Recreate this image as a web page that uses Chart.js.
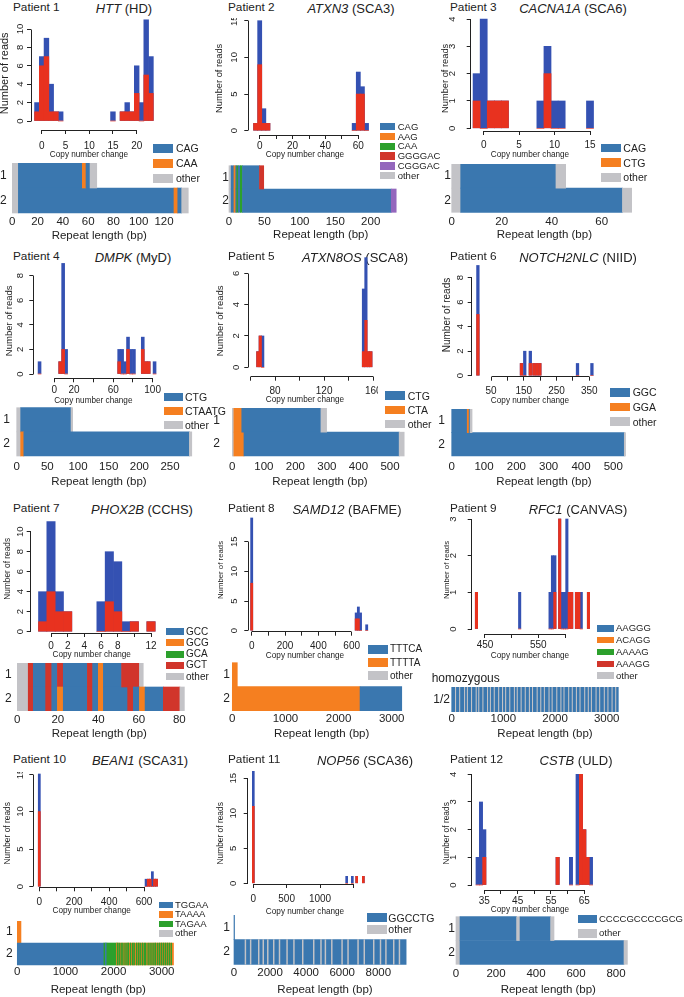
<!DOCTYPE html>
<html>
<head>
<meta charset="utf-8">
<script src="https://cdn.jsdelivr.net/npm/chart.js@4.4.1/dist/chart.umd.min.js"></script>
<style>
body { margin: 0; background: #fff; }
#fig { position: relative; width: 684px; height: 997px; overflow: hidden; font-family: "Liberation Sans", Arial, Helvetica, sans-serif; color: #222; }
#fig canvas { position: absolute; }
.t { position: absolute; white-space: nowrap; line-height: 1; }
.box { position: absolute; }
</style>
</head>
<body>
<div id="fig"></div>
<script>
Chart.defaults.font.family = '"Liberation Sans", Arial, Helvetica, sans-serif';
Chart.defaults.color = '#222';

// ---------- data ----------
const genes    = ['HTT', 'ATXN3', 'CACNA1A', 'DMPK', 'ATXN8OS', 'NOTCH2NLC', 'PHOX2B', 'SAMD12', 'RFC1', 'BEAN1', 'NOP56', 'CSTB'];
const diseases = ['HD', 'SCA3', 'SCA6', 'MyD', 'SCA8', 'NIID', 'CCHS', 'BAFME', 'CANVAS', 'SCA31', 'SCA36', 'ULD'];

// histograms: bin (copy number change), all reads (blue), reads of one allele (red)
const p1_bins  = [-1, 0, 1, 2, 3, 4, 15, 17, 18, 19, 20, 21, 22, 23];
const p1_total = [ 2, 7, 9, 4, 1, 1,  1,  1,  2,  1,  6,  2, 11,  7];
const p1_red   = [ 1, 6, 7, 1, 1, 0,  0,  1,  1,  1,  3,  0,  5,  3];
const p2_bins  = [-2.5, 0, 2.5, 5, 57.5, 60, 62.5, 65];
const p2_total = [1, 15, 3, 1, 1, 8, 6, 1];
const p2_red   = [1,  9, 1, 1, 0, 5, 5, 0];
const p3_bins  = [-1, 0, 1, 2, 3, 8, 9, 10, 11, 15];
const p3_total = [ 2, 4, 1, 1, 1, 1, 3,  1,  1,  1];
const p3_red   = [ 1, 0, 1, 1, 1, 0, 2,  0,  0,  0];
const p4_bins  = [-15, 6, 9, 12, 66, 69, 72, 75, 78, 81, 90, 93, 96, 102];
const p4_total = [  1, 1, 9,  2,  2,  2,  1,  3,  2,  2,  3,  1,  1,   1];
const p4_red   = [  0, 1, 2,  0,  1,  0,  0,  2,  0,  0,  2,  1,  1,   0];
const p5_bins  = [66, 68, 70, 152, 154, 156, 158];
const p5_total = [ 1,  2,  2,   5,   7,   1,   1];
const p5_red   = [ 1,  2,  0,   1,   3,   1,   1];
const p6_bins  = [10, 143, 153, 170, 181, 190, 199, 314, 358];
const p6_total = [ 9,   1,   2,   2,   1,   1,   1,   1,   1];
const p6_red   = [ 5,   1,   0,   1,   1,   1,   1,   0,   0];
const p7_bins  = [-1,  0, 1, 2, 6, 7, 8, 9, 10, 12];
const p7_total = [ 4, 11, 4, 2, 3, 8, 7, 1,  1,  1];
const p7_red   = [ 1,  4, 2, 2, 0, 3, 2, 0,  1,  1];
const p8_bins  = [ 0, 627, 640, 653, 690];
const p8_total = [19,   3,   4,   3,   1];
const p8_red   = [ 8,   2,   2,   0,   0];
const p9_bins  = [434, 515, 572, 576.5, 581, 590, 594.5, 599, 603.5, 608, 612.5, 621.5, 626, 630.5, 644];
const p9_total = [  1,   1,   1,     2,   2,   3,     1,   1,     3,   1,     1,     1,   1,     1,   1];
const p9_red   = [  1,   0,   0,     0,   1,   3,     0,   0,     0,   1,     1,     1,   1,     0,   1];
const p10_bins  = [ 0, 612, 624, 636, 648, 660, 672];
const p10_total = [15,   1,   1,   1,   2,   1,   1];
const p10_red   = [10,   0,   1,   1,   0,   1,   1];
const p11_bins  = [ 0, 1400, 1485, 1550, 1650];
const p11_total = [16,    1,    1,    1,    1];
const p11_red   = [11,    0,    0,    1,    1];
const p12_bins  = [33, 34, 35, 57, 61, 63, 64, 65, 66, 67];
const p12_total = [ 1,  3,  2,  1,  1,  4,  4,  2,  1,  1];
const p12_red   = [ 0,  0,  1,  1,  0,  0,  4,  2,  1,  0];

// histogram axis ticks and the ticks that carry a label
const p1_xticks = [0, 5, 10, 15, 20],                p1_xlabels = [0, 5, 10, 15, 20],   p1_yticks = [0, 2, 4, 6, 8, 10];
const p2_xticks = [0, 10, 20, 30, 40, 50, 60],       p2_xlabels = [0, 20, 40, 60],      p2_yticks = [0, 5, 10, 15];
const p3_xticks = [0, 5, 10, 15],                    p3_xlabels = [0, 5, 10, 15],       p3_yticks = [0, 1, 2, 3, 4];
const p4_xticks = [0, 20, 40, 60, 80, 100],          p4_xlabels = [0, 20, 60, 100],     p4_yticks = [0, 2, 4, 6, 8];
const p5_xticks = [60, 80, 100, 120, 140, 160],      p5_xlabels = [80, 120, 160],       p5_yticks = [0, 2, 4, 6];
const p6_xticks = [50, 100, 150, 200, 250, 300, 350], p6_xlabels = [50, 150, 250, 350], p6_yticks = [0, 2, 4, 6, 8];
const p7_xticks = [0, 2, 4, 6, 8, 10, 12],           p7_xlabels = [0, 2, 4, 6, 8, 12],  p7_yticks = [0, 2, 4, 6, 8, 10];
const p8_xticks = [0, 100, 200, 300, 400, 500, 600], p8_xlabels = [0, 200, 400, 600],   p8_yticks = [0, 5, 10, 15];
const p9_xticks = [450, 500, 550, 600],              p9_xlabels = [450, 550],           p9_yticks = [0, 1, 2, 3];
const p10_xticks = [0, 100, 200, 300, 400, 500, 600], p10_xlabels = [0, 200, 400, 600], p10_yticks = [0, 5, 10, 15];
const p11_xticks = [0, 500, 1000, 1500],             p11_xlabels = [0, 500, 1000],      p11_yticks = [0, 5, 10, 15];
const p12_xticks = [35, 40, 45, 50, 55, 60, 65],     p12_xlabels = [35, 45, 55, 65],    p12_yticks = [0, 1, 2, 3, 4];

// motifs in each legend (colour follows the order, "other" is grey)
const p1_motifs  = ['CAG', 'CAA', 'other'];
const p2_motifs  = ['CAG', 'AAG', 'CAA', 'GGGGAC', 'CGGGAC', 'other'];
const p3_motifs  = ['CAG', 'CTG', 'other'];
const p4_motifs  = ['CTG', 'CTAATG', 'other'];
const p5_motifs  = ['CTG', 'CTA', 'other'];
const p6_motifs  = ['GGC', 'GGA', 'other'];
const p7_motifs  = ['GCC', 'GCG', 'GCA', 'GCT', 'other'];
const p8_motifs  = ['TTTCA', 'TTTTA', 'other'];
const p9_motifs  = ['AAGGG', 'ACAGG', 'AAAAG', 'AAAGG', 'other'];
const p10_motifs = ['TGGAA', 'TAAAA', 'TAGAA', 'other'];
const p11_motifs = ['GGCCTG', 'other'];
const p12_motifs = ['CCCCGCCCCGCG', 'other'];

// alleles: [end (bp), motif], each segment starts where the previous one ends
const p1_allele1 = [[4.8, 'other'], [55.4, 'CAG'], [58.3, 'CAA'], [61.5, 'CAG'], [66.8, 'other']];
const p1_allele2 = [[4.8, 'other'], [127.9, 'CAG'], [130.9, 'CAA'], [134, 'CAG'], [139.2, 'other']];
const p2_allele1 = [[3, 'other'], [7, 'CAG'], [9.5, 'AAG'], [11, 'CAG'], [13, 'CAA'], [16, 'CAG'], [19, 'CAA'], [43, 'CAG'], [49, 'GGGGAC']];
const p2_allele2 = [[3, 'other'], [7, 'CAG'], [9.5, 'AAG'], [11, 'CAG'], [13, 'CAA'], [16, 'CAG'], [19, 'CAA'], [229, 'CAG'], [236, 'CGGGAC']];
const p3_allele1 = [[3.6, 'other'], [41.7, 'CAG'], [45.6, 'other']];
const p3_allele2 = [[3.6, 'other'], [68.3, 'CAG'], [72, 'other']];
const p4_allele1 = [[6.5, 'other'], [88.6, 'CTG'], [91.3, 'other']];
const p4_allele2 = [[6.5, 'other'], [11.6, 'CTAATG'], [281.6, 'CTG'], [285.5, 'other']];
const p5_allele1 = [[5, 'other'], [30, 'CTA'], [281, 'CTG'], [299, 'other']];
const p5_allele2 = [[5, 'other'], [37, 'CTA'], [529, 'CTG'], [545, 'other']];
const p6_allele1 = [[48, 'GGC'], [54, 'GGA'], [57, 'GGC'], [63, 'other']];
const p6_allele2 = [[534, 'GGC'], [538, 'other']];
const p7_allele1 = [[5.4, 'other'], [7.9, 'GCT'], [14, 'GCC'], [17, 'GCT'], [19.8, 'GCC'], [22.7, 'GCT'], [34.6, 'GCC'], [37.2, 'GCT'],
                    [40, 'GCC'], [42.5, 'GCG'], [51.5, 'GCC'], [60.3, 'GCT'], [62.2, 'other']];
const p7_allele2 = [[5.4, 'other'], [7.9, 'GCT'], [14, 'GCC'], [17, 'GCT'], [19.8, 'GCC'], [22.7, 'GCG'], [34.6, 'GCC'], [37.2, 'GCT'],
                    [40, 'GCC'], [42.5, 'GCG'], [54.5, 'GCC'], [57.3, 'GCT'], [60.3, 'GCC'], [63.1, 'GCG'], [72.1, 'GCC'], [80.3, 'GCT'], [82.5, 'other']];
const p8_allele1 = [[94, 'TTTTA']];
const p8_allele2 = [[2404, 'TTTTA'], [3189, 'TTTCA']];
const p9_allele  = [[3225, 'AAGGG']];
const p10_allele1 = [[76, 'TAAAA']];
const p10_allele2 = [[1800, 'TGGAA'], [1830, 'TAGAA'], [1860, 'TGGAA'], [2060, 'TAGAA'], [3245, 'TAAAA']];
const p11_allele1 = [[30, 'GGCCTG']];
const p11_allele2 = [[9543, 'GGCCTG']];
const p12_allele1 = [[20, 'other'], [303, 'CCCCGCCCCGCG'], [320, 'other'], [473, 'CCCCGCCCCGCG'], [490, 'other']];
const p12_allele2 = [[20, 'other'], [840, 'CCCCGCCCCGCG'], [857, 'other']];

// short interruptions inside the long repeats (start, bp)
const p9_breaks  = [70, 150, 245, 300, 380, 470, 520, 600, 690, 745, 820, 905, 980, 1040, 1120, 1210, 1265, 1340, 1420, 1500, 1560,
                    1650, 1720, 1790, 1880, 1940, 2030, 2110, 2170, 2260, 2330, 2410, 2480, 2570, 2640, 2700, 2790, 2860, 2950, 3020, 3100, 3170];
const p10_breaks = [2075, 2110, 2150, 2185, 2230, 2270, 2300, 2345, 2390, 2420, 2470, 2510, 2545, 2590, 2630, 2660, 2710, 2750, 2790,
                    2830, 2865, 2910, 2950, 2990, 3030, 3070, 3110, 3150, 3190];
const p11_breaks = [610, 900, 1349, 1600, 1850, 2180, 2500, 2919, 3300, 3788, 4398, 4800, 5044, 5400, 5969, 6300, 6855, 7200, 7724, 8100, 8400, 8833, 9150];

// allele axis ticks
const p1_ticks = [0, 20, 40, 60, 80, 100, 120];
const p2_ticks = [0, 50, 100, 150, 200];
const p3_ticks = [0, 20, 40, 60];
const p4_ticks = [0, 50, 100, 150, 200, 250];
const p5_ticks = [0, 100, 200, 300, 400, 500];
const p6_ticks = [0, 100, 200, 300, 400, 500];
const p7_ticks = [0, 20, 40, 60, 80];
const p8_ticks = [0, 1000, 2000, 3000];
const p9_ticks = [0, 1000, 2000, 3000];
const p10_ticks = [0, 1000, 2000, 3000];
const p11_ticks = [0, 2000, 4000, 6000, 8000];
const p12_ticks = [0, 200, 400, 600, 800];

// ---------- styles / layout ----------
const PALETTE = ['#3a77af', '#f57f20', '#2ca02c', '#d1352b', '#9467bd'];
const OTHER = '#c3c3c7';
const HIST_BLUE = '#3451b2';
const HIST_RED = '#e8321f';
const AXIS = '#222';

const titlePos = [[13, 124, 8], [228, 351, 8], [450, 573, 8], [13, 133, 257], [228, 355, 257], [450, 578, 257],
                  [13, 142, 508.5], [228, 347, 508.5], [450, 578, 508.5], [13, 140, 760], [228, 365, 760], [450, 576, 760]];

const histLayout = [
  { area: [31, 16.7, 147, 130],        xmap: [0, 41.7, 20, 136.7],   ymap: [0, 121, 10, 29],      binW: 1,   xPad: 6,   yPad: 1,    yTitleX: 5,     yTitle: 11,  xTitleY: 155 },
  { area: [248.3, 21.7, 361.7, 135],   xmap: [0, 259.7, 60, 358.3],  ymap: [0, 130.7, 15, 20.7],  binW: 2.5, xPad: 1.7, yPad: 4.3,  yTitleX: 220.5, yTitle: 9.3, xTitleY: 155 },
  { area: [470.7, 25.7, 589.3, 131],   xmap: [0, 483.7, 15, 590],    ymap: [0, 128.3, 4, 19],     binW: 1,   xPad: 4,   yPad: 11.5, yTitleX: 446,   yTitle: 9.3, xTitleY: 154.3 },
  { area: [33.3, 263.3, 153.3, 378.3], xmap: [0, 54.3, 100, 152.6],  ymap: [0, 374, 8, 275.7],    binW: 3,   xPad: 1.7, yPad: 6,    yTitleX: 10,    yTitle: 9.5, xTitleY: 400.7 },
  { area: [248.3, 265, 361.7, 376.7],  xmap: [80, 275, 160, 373.3],  ymap: [0, 367.3, 6, 273.3],  binW: 2,   xPad: 5,   yPad: 5,    yTitleX: 221,   yTitle: 9.5, xTitleY: 400 },
  { area: [471.7, 253.3, 588.3, 376.7], xmap: [50, 491, 350, 589.3], ymap: [0, 375.7, 8, 277.7],  binW: 8,   xPad: 5,   yPad: 5,    yTitleX: 447,   yTitle: 10,  xTitleY: 400.7 },
  { area: [30.7, 504.6, 152.7, 633],   xmap: [0, 51, 12, 151],       ymap: [0, 631.7, 10, 531.7], binW: 1,   xPad: 3.7, yPad: 1.5,  yTitleX: 8.3,   yTitle: 8.3, xTitleY: 655 },
  { area: [248.3, 508.3, 361.7, 631.7], xmap: [0, 251.7, 600, 351.7], ymap: [0, 630.7, 15, 541.7], binW: 13, xPad: 4.3, yPad: 4.3,  yTitleX: 221,   yTitle: 7.8, xTitleY: 655.7 },
  { area: [471.7, 506, 588.3, 634],    xmap: [450, 485, 600, 565],   ymap: [0, 629, 3, 519],      binW: 4.5, xPad: 1,   yPad: 11.2, yTitleX: 447.5, yTitle: 7.8, xTitleY: 655.7 },
  { area: [33.3, 779.3, 150, 887.3],   xmap: [0, 39.3, 600, 144],    ymap: [0, 886.7, 15, 774],   binW: 12,  xPad: 5,   yPad: 3.6,  yTitleX: 8.3,   yTitle: 8.4, xTitleY: 910.7 },
  { area: [247.7, 782.7, 362.3, 884],  xmap: [0, 253.3, 1000, 320],  ymap: [0, 883.3, 15, 778.3], binW: 30,  xPad: 5,   yPad: 5.4,  yTitleX: 222,   yTitle: 8.4, xTitleY: 911.7 },
  { area: [471.7, 776.7, 588.3, 890],  xmap: [35, 484.3, 65, 584.3], ymap: [0, 885, 4, 774.3],    binW: 1,   xPad: 1,   yPad: 11.2, yTitleX: 447.5, yTitle: 8.4, xTitleY: 910 }
];

const alleleLayout = [
  { area: [12.3, 163, 186.3, 213],    xmap: [0, 12.3, 120, 164],     labelY: 221.7, titleY: 236,   labelRight: 6.7 },
  { area: [229, 165.7, 412.4, 212.3], xmap: [0, 229, 200, 370.7],    labelY: 221.7, titleY: 235,   labelRight: 228.8 },
  { area: [451.7, 164, 637, 212.3],   xmap: [0, 451.7, 60, 601.7],   labelY: 221.7, titleY: 235,   labelRight: 451 },
  { area: [16.7, 407.7, 181.3, 456],  xmap: [0, 16.7, 250, 170],     labelY: 466.7, titleY: 481.7, labelRight: 10 },
  { area: [232.3, 408.3, 407.7, 456], xmap: [0, 232.3, 500, 390],    labelY: 466.7, titleY: 481.7, labelRight: 220 },
  { area: [451.7, 409.3, 636.3, 456], xmap: [0, 451.7, 500, 613.3],  labelY: 466.7, titleY: 481.7, labelRight: 444.9 },
  { area: [17.3, 663.3, 181.3, 710.7], xmap: [0, 17.3, 80, 179.3],   labelY: 720,   titleY: 733.3, labelRight: 11.7 },
  { area: [232.3, 662.7, 411.1, 710.7], xmap: [0, 232.3, 3000, 391.7], labelY: 719.3, titleY: 733.3, labelRight: 230 },
  { area: [451.7, 687.3, 638.3, 711.7], xmap: [0, 451.7, 3000, 606.7], labelY: 719.3, titleY: 733.3, labelRight: 450 },
  { area: [17.3, 921, 179.3, 965],    xmap: [0, 17.3, 3000, 161.7],  labelY: 972,   titleY: 990,   labelRight: 12.7 },
  { area: [234, 915, 416, 964.3],     xmap: [0, 234, 8000, 378.3],   labelY: 973.3, titleY: 990,   labelRight: 230 },
  { area: [456, 916.7, 640.6, 964.3], xmap: [0, 456, 800, 616],      labelY: 974.3, titleY: 990,   labelRight: 455 }
];

const legendLayout = [
  { x: 153,   bw: 20,   bh: 9,   tx: 176,   y0: 148,   dy: 15,   fs: 10.5 },
  { x: 380,   bw: 15,   bh: 7.5, tx: 397.7, y0: 126.7, dy: 9.8,  fs: 9.5 },
  { x: 600.7, bw: 20,   bh: 8.5, tx: 623.3, y0: 148,   dy: 14.7, fs: 10.5 },
  { x: 164,   bw: 19.3, bh: 8.3, tx: 185,   y0: 396.7, dy: 14.2, fs: 10.5 },
  { x: 385,   bw: 20,   bh: 8.5, tx: 407.7, y0: 395.7, dy: 14.2, fs: 10.5 },
  { x: 610,   bw: 20,   bh: 8.5, tx: 632.7, y0: 392.3, dy: 14.7, fs: 10.5 },
  { x: 165.7, bw: 18.3, bh: 7,   tx: 186,   y0: 631.7, dy: 11.25, fs: 10 },
  { x: 368.3, bw: 20,   bh: 8.5, tx: 390,   y0: 649.3, dy: 13.2, fs: 10 },
  { x: 596.7, bw: 17.3, bh: 6.5, tx: 616,   y0: 628.3, dy: 11.85, fs: 9.5 },
  { x: 159.3, bw: 14,   bh: 6.5, tx: 175,   y0: 905,   dy: 9.45, fs: 9.5 },
  { x: 366.7, bw: 20,   bh: 8.5, tx: 388.3, y0: 917.7, dy: 11.6, fs: 10.5 },
  { x: 578.3, bw: 18.4, bh: 8.5, tx: 599,   y0: 919,   dy: 14.3, fs: 9.5 }
];

// ---------- drawing ----------
const fig = document.getElementById('fig');

function addText(text, x, y, size, center) {
  const d = document.createElement('div');
  d.className = 't';
  d.textContent = text;
  d.style.left = x + 'px';
  d.style.top = y + 'px';
  d.style.fontSize = size + 'px';
  d.style.transform = center ? 'translate(-50%,-50%)' : 'translate(0,-50%)';
  fig.appendChild(d);
  return d;
}

function makeCanvas(left, top, w, h) {
  const c = document.createElement('canvas');
  c.width = w; c.height = h;
  c.style.left = left + 'px';
  c.style.top = top + 'px';
  c.style.width = w + 'px';
  c.style.height = h + 'px';
  fig.appendChild(c);
  return c;
}

function motifColor(motifs, m) {
  return m === 'other' ? OTHER : PALETTE[motifs.indexOf(m)];
}

const alignPx = p => Math.round(p - 0.5) + 0.5;

// R style axes: the line only runs from the first to the last tick
const rAxis = {
  id: 'rAxis',
  afterDraw(chart) {
    const ctx = chart.ctx, x = chart.scales.x, y = chart.scales.y;
    const xs = x.ticks.map(t => alignPx(x.getPixelForValue(t.value)));
    const ys = y.ticks.map(t => alignPx(y.getPixelForValue(t.value)));
    ctx.save();
    ctx.strokeStyle = AXIS;
    ctx.lineWidth = 1;
    ctx.beginPath();
    ctx.moveTo(xs[0], alignPx(x.top));
    ctx.lineTo(xs[xs.length - 1], alignPx(x.top));
    ctx.moveTo(alignPx(y.right), ys[0]);
    ctx.lineTo(alignPx(y.right), ys[ys.length - 1]);
    ctx.stroke();
    ctx.restore();
  }
};

function histogram(g, bins, total, red, xTicks, xLabels, yTicks) {
  const [L, T, R, B] = g.area;
  const kx = (g.xmap[3] - g.xmap[1]) / (g.xmap[2] - g.xmap[0]);
  const ky = (g.ymap[3] - g.ymap[1]) / (g.ymap[2] - g.ymap[0]);
  const barTop = g.ymap[1] + (Math.max(...total) - g.ymap[0]) * ky;
  const left = Math.floor(g.yTitleX - 0.6 * g.yTitle);
  const top = Math.floor(Math.min(T, barTop - 2));
  const bottom = Math.ceil(g.xTitleY + 0.6 * 8.2);
  const right = Math.ceil(R) + 16;
  const cv = makeCanvas(left, top, right - left, bottom - top);
  const bar = { grouped: false, barThickness: g.binW * kx, borderWidth: 0, clip: false };

  return new Chart(cv, {
    type: 'bar',
    data: {
      datasets: [
        Object.assign({ data: bins.map((b, i) => ({ x: b, y: red[i] })), backgroundColor: HIST_RED, order: 0 }, bar),
        Object.assign({ data: bins.map((b, i) => ({ x: b, y: total[i] })), backgroundColor: HIST_BLUE, order: 1 }, bar)
      ]
    },
    options: {
      responsive: false, animation: false, events: [], devicePixelRatio: 1,
      layout: { padding: { top: T - top, left: 0, right: right - R, bottom: 0 }, autoPadding: false },
      plugins: { legend: { display: false }, tooltip: { enabled: false } },
      scales: {
        x: {
          type: 'linear', offset: false,
          min: g.xmap[0] + (L - g.xmap[1]) / kx,
          max: g.xmap[0] + (R - g.xmap[1]) / kx,
          afterBuildTicks: s => { s.ticks = xTicks.map(v => ({ value: v })); },
          afterFit: s => { s.height = bottom - B; s.paddingLeft = 0; s.paddingRight = 0; },
          border: { display: false },
          grid: { drawOnChartArea: false, tickLength: 4, color: AXIS, offset: false },
          ticks: { autoSkip: false, maxRotation: 0, padding: g.xPad, font: { size: 10 },
                   callback: v => xLabels.includes(v) ? String(v) : '' },
          title: { display: true, text: 'Copy number change', padding: 0, font: { size: 8.2 } }
        },
        y: {
          type: 'linear',
          min: g.ymap[0] + (B - g.ymap[1]) / ky,
          max: g.ymap[0] + (T - g.ymap[1]) / ky,
          afterBuildTicks: s => { s.ticks = yTicks.map(v => ({ value: v })); },
          afterFit: s => { s.width = L - left; s.paddingTop = 0; s.paddingBottom = 0; },
          border: { display: false },
          grid: { drawOnChartArea: false, tickLength: 4, color: AXIS },
          ticks: { autoSkip: false, minRotation: 90, maxRotation: 90, crossAlign: 'center', padding: g.yPad, font: { size: 9.5 } },
          title: { display: true, text: 'Number of reads', padding: 0, font: { size: g.yTitle } }
        }
      }
    },
    plugins: [rAxis]
  });
}

function alleles(g, rowLabels, rows, motifs, ticks, breaks) {
  const [L, T, R, B] = g.area;
  const kx = (g.xmap[3] - g.xmap[1]) / (g.xmap[2] - g.xmap[0]);
  const segRows = rows.map(r => {
    let start = 0;
    return r.map(([end, m]) => { const s = [start, end, m]; start = end; return s; });
  });
  if (breaks) breaks.list.forEach(p => segRows[breaks.row].push([p, p + breaks.w, breaks.motif]));

  const n = Math.max(...segRows.map(r => r.length));
  const datasets = [];
  for (let k = 0; k < n; k++) {
    datasets.push({
      data: segRows.map(r => r[k] ? [r[k][0], r[k][1]] : null),
      backgroundColor: segRows.map(r => r[k] ? motifColor(motifs, r[k][2]) : 'rgba(0,0,0,0)'),
      grouped: false, barPercentage: 1, categoryPercentage: 1, borderWidth: 0, clip: false, order: -k
    });
  }

  const left = Math.floor(g.labelRight - 30);
  const top = Math.floor(T);
  const bottom = Math.ceil(g.titleY + 0.6 * 11.5);
  const right = Math.ceil(R) + 12;
  const cv = makeCanvas(left, top, right - left, bottom - top);

  return new Chart(cv, {
    type: 'bar',
    data: { labels: rowLabels, datasets },
    options: {
      indexAxis: 'y',
      responsive: false, animation: false, events: [], devicePixelRatio: 1,
      layout: { padding: { top: T - top, left: 0, right: right - R, bottom: 0 }, autoPadding: false },
      plugins: { legend: { display: false }, tooltip: { enabled: false } },
      scales: {
        x: {
          type: 'linear', min: 0,
          max: (R - g.xmap[1]) / kx,
          afterBuildTicks: s => { s.ticks = ticks.map(v => ({ value: v })); },
          afterFit: s => { s.height = bottom - B; s.paddingLeft = 0; s.paddingRight = 0; },
          border: { display: false },
          grid: { display: false, drawTicks: false },
          ticks: { autoSkip: false, maxRotation: 0, padding: g.labelY - B - 6.9, font: { size: 11.5 }, callback: v => String(v) },
          title: { display: true, text: 'Repeat length (bp)', padding: 0, font: { size: 11.5 } }
        },
        y: {
          type: 'category', offset: true,
          afterFit: s => { s.width = L - left; s.paddingTop = 0; s.paddingBottom = 0; },
          border: { display: false },
          grid: { display: false, drawTicks: false },
          ticks: { padding: L - g.labelRight, font: { size: 12 } }
        }
      }
    }
  });
}

function legend(g, motifs) {
  motifs.forEach((m, i) => {
    const y = g.y0 + i * g.dy;
    const b = document.createElement('div');
    b.className = 'box';
    b.style.left = g.x + 'px';
    b.style.top = (y - g.bh / 2) + 'px';
    b.style.width = g.bw + 'px';
    b.style.height = g.bh + 'px';
    b.style.background = motifColor(motifs, m);
    fig.appendChild(b);
    addText(m, g.tx, y, g.fs, false);
  });
}

const hists = [
  [p1_bins, p1_total, p1_red, p1_xticks, p1_xlabels, p1_yticks],
  [p2_bins, p2_total, p2_red, p2_xticks, p2_xlabels, p2_yticks],
  [p3_bins, p3_total, p3_red, p3_xticks, p3_xlabels, p3_yticks],
  [p4_bins, p4_total, p4_red, p4_xticks, p4_xlabels, p4_yticks],
  [p5_bins, p5_total, p5_red, p5_xticks, p5_xlabels, p5_yticks],
  [p6_bins, p6_total, p6_red, p6_xticks, p6_xlabels, p6_yticks],
  [p7_bins, p7_total, p7_red, p7_xticks, p7_xlabels, p7_yticks],
  [p8_bins, p8_total, p8_red, p8_xticks, p8_xlabels, p8_yticks],
  [p9_bins, p9_total, p9_red, p9_xticks, p9_xlabels, p9_yticks],
  [p10_bins, p10_total, p10_red, p10_xticks, p10_xlabels, p10_yticks],
  [p11_bins, p11_total, p11_red, p11_xticks, p11_xlabels, p11_yticks],
  [p12_bins, p12_total, p12_red, p12_xticks, p12_xlabels, p12_yticks]
];

const allelePanels = [
  [['1', '2'], [p1_allele1, p1_allele2], p1_motifs, p1_ticks],
  [['1', '2'], [p2_allele1, p2_allele2], p2_motifs, p2_ticks],
  [['1', '2'], [p3_allele1, p3_allele2], p3_motifs, p3_ticks],
  [['1', '2'], [p4_allele1, p4_allele2], p4_motifs, p4_ticks],
  [['1', '2'], [p5_allele1, p5_allele2], p5_motifs, p5_ticks],
  [['1', '2'], [p6_allele1, p6_allele2], p6_motifs, p6_ticks],
  [['1', '2'], [p7_allele1, p7_allele2], p7_motifs, p7_ticks],
  [['1', '2'], [p8_allele1, p8_allele2], p8_motifs, p8_ticks],
  [['1/2'], [p9_allele], p9_motifs, p9_ticks, { row: 0, list: p9_breaks, w: 8, motif: 'other' }],
  [['1', '2'], [p10_allele1, p10_allele2], p10_motifs, p10_ticks, { row: 1, list: p10_breaks, w: 16, motif: 'TAGAA' }],
  [['1', '2'], [p11_allele1, p11_allele2], p11_motifs, p11_ticks, { row: 1, list: p11_breaks, w: 45, motif: 'other' }],
  [['1', '2'], [p12_allele1, p12_allele2], p12_motifs, p12_ticks]
];

for (let i = 0; i < 12; i++) {
  const [px, gx, ty] = titlePos[i];
  addText('Patient ' + (i + 1), px, ty, 11.8, false);
  const gt = addText('', gx, ty, 13, true);
  const it = document.createElement('i');
  it.textContent = genes[i];
  gt.appendChild(it);
  gt.appendChild(document.createTextNode(' (' + diseases[i] + ')'));

  const h = hists[i];
  histogram(histLayout[i], h[0], h[1], h[2], h[3], h[4], h[5]);
  const a = allelePanels[i];
  alleles(alleleLayout[i], a[0], a[1], a[2], a[3], a[4]);
  legend(legendLayout[i], a[2]);
}
addText('homozygous', 431.7, 678.3, 12, false);
</script>
</body>
</html>
